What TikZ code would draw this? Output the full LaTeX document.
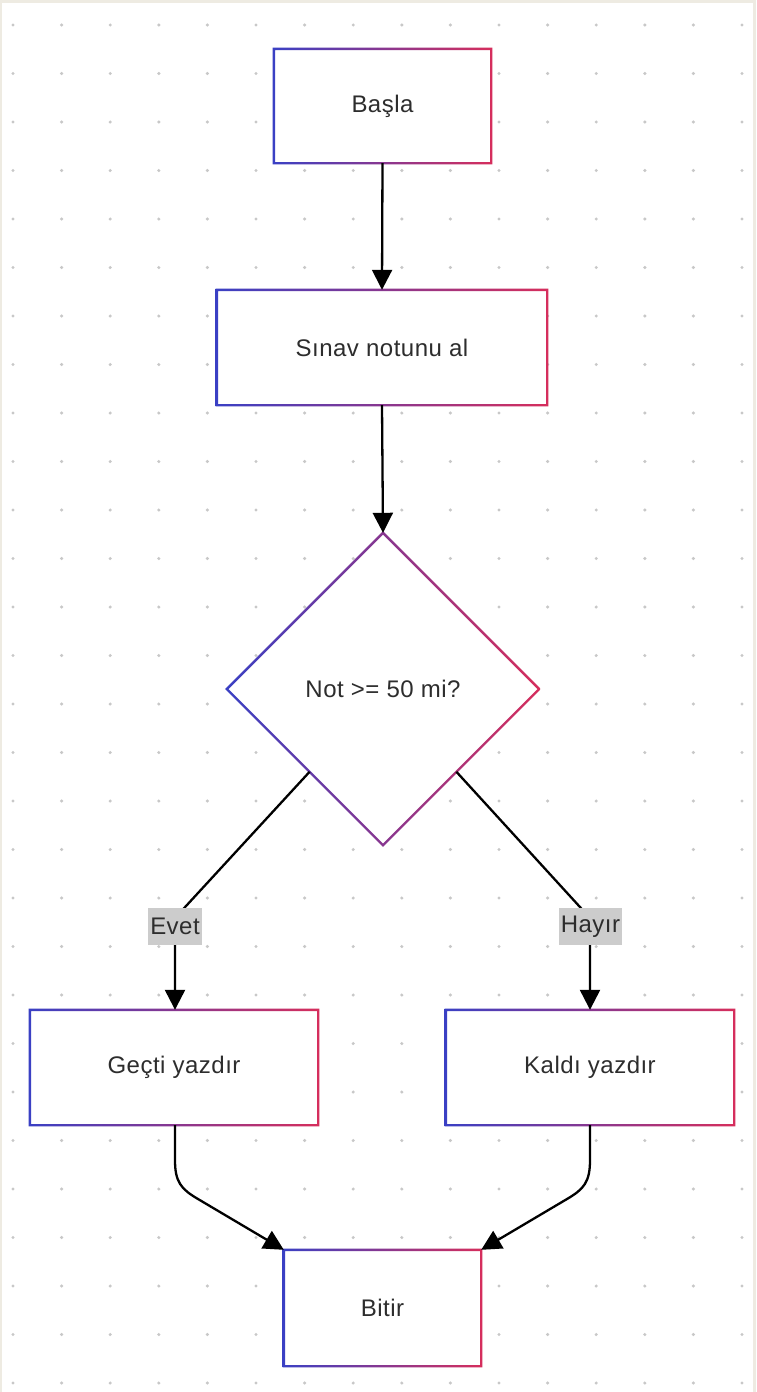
\documentclass[tikz,border=0pt]{standalone}
\usepackage{fontspec}
\setmainfont{Liberation Sans}
\usetikzlibrary{arrows.meta,shapes.geometric,calc}

\definecolor{framecol}{RGB}{238,235,226}
\definecolor{dotcol}{RGB}{200,200,200}
\definecolor{txtcol}{RGB}{45,45,45}
\definecolor{edgeblue}{RGB}{58,64,196}
\definecolor{edgered}{RGB}{214,46,92}
\definecolor{lblfill}{RGB}{204,204,204}

% gradient outline (blue on the left, red on the right) around a rectangular node
\newcommand{\gradrect}[1]{%
  \shade[left color=edgeblue, right color=edgered, even odd rule]
    ([shift={(-1.2pt,1.2pt)}]#1.north west) rectangle ([shift={(1.2pt,-1.2pt)}]#1.south east)
    ([shift={(1.2pt,-1.2pt)}]#1.north west) rectangle ([shift={(-1.2pt,1.2pt)}]#1.south east);}

% same outline for the decision diamond
\newcommand{\graddiamond}[1]{%
  \shade[left color=edgeblue, right color=edgered, even odd rule]
    ([yshift=1.7pt]#1.north) -- ([xshift=1.7pt]#1.east) -- ([yshift=-1.7pt]#1.south) -- ([xshift=-1.7pt]#1.west) -- cycle
    ([yshift=-1.7pt]#1.north) -- ([xshift=-1.7pt]#1.east) -- ([yshift=1.7pt]#1.south) -- ([xshift=1.7pt]#1.west) -- cycle;}

\tikzset{
  procbox/.style={rectangle, fill=white, inner sep=0pt, text=txtcol,
    font=\fontsize{24}{28}\selectfont\addfontfeature{LetterSpace=2}},
  decision/.style={diamond, aspect=1, fill=white, inner sep=0pt, text=txtcol,
    minimum width=312pt, minimum height=312pt,
    font=\fontsize{24}{28}\selectfont\addfontfeature{LetterSpace=2}},
  flow/.style={draw=black, line width=2.3pt, -{Triangle[length=20pt,width=20pt]}},
  edgelabel/.style={fill=lblfill, text=txtcol, inner xsep=2pt, inner ysep=0pt,
    minimum height=37pt, font=\fontsize{24}{28}\selectfont\addfontfeature{LetterSpace=2}},
}

\begin{document}
\begin{tikzpicture}[x=1pt, y=-1pt]
  \useasboundingbox (0,0) rectangle (756,1392);
  % canvas with dotted grid
  \fill[framecol] (0,0) rectangle (756,1392);
  \fill[white] (2,3) rectangle (753,1392);
  \foreach \i in {0,...,15}{
    \foreach \j in {0,...,28}{
      \fill[dotcol] ({13+48.6*\i},{25+48.5*\j}) circle[radius=1.7pt];
    }
  }

  % nodes
  \node[procbox, minimum width=217pt, minimum height=114pt] (start) at (382.5,106) {Başla};
  \node[procbox, minimum width=330pt, minimum height=115pt] (input) at (382,347.5) {Sınav notunu al};
  \node[decision] (check) at (383,689) {Not >= 50 mi?};
  \node[procbox, minimum width=288pt, minimum height=115pt] (pass) at (174,1067.5) {Geçti yazdır};
  \node[procbox, minimum width=288pt, minimum height=115pt] (fail) at (590,1067.5) {Kaldı yazdır};
  \node[procbox, minimum width=197pt, minimum height=116pt] (finish) at (382.5,1308) {Bitir};

  \gradrect{start}
  \gradrect{input}
  \graddiamond{check}
  \gradrect{pass}
  \gradrect{fail}
  \gradrect{finish}

  % connectors
  \coordinate (yesout) at ($(check.west)!0.53!(check.south)$);
  \coordinate (noout) at ($(check.east)!0.53!(check.south)$);
  \coordinate (yesbend) at (175,918);
  \coordinate (nobend) at (590,918);
  \coordinate (passdrop) at (175,1160);
  \coordinate (passturn) at (198,1199);
  \coordinate (faildrop) at (590,1160);
  \coordinate (failturn) at (567,1199);

  \path[flow] (start.south) -- (input.north);
  \path[flow] (input.south) -- (check.north);
  \path[flow] (yesout) -- (yesbend) -- (pass.north -| yesbend);
  \path[flow] (noout) -- (nobend) -- (fail.north -| nobend);
  \path[flow] (pass.south -| passdrop) -- (passdrop) .. controls (175,1182) and (181,1189) .. (passturn) -- (finish.north west);
  \path[flow] (fail.south -| faildrop) -- (faildrop) .. controls (590,1182) and (584,1189) .. (failturn) -- (finish.north east);

  % branch labels
  \node[edgelabel] (yeslbl) at (175,926.5) {Evet};
  \node[edgelabel] (nolbl) at (590.5,926.5) {Hayır};
\end{tikzpicture}
\end{document}
